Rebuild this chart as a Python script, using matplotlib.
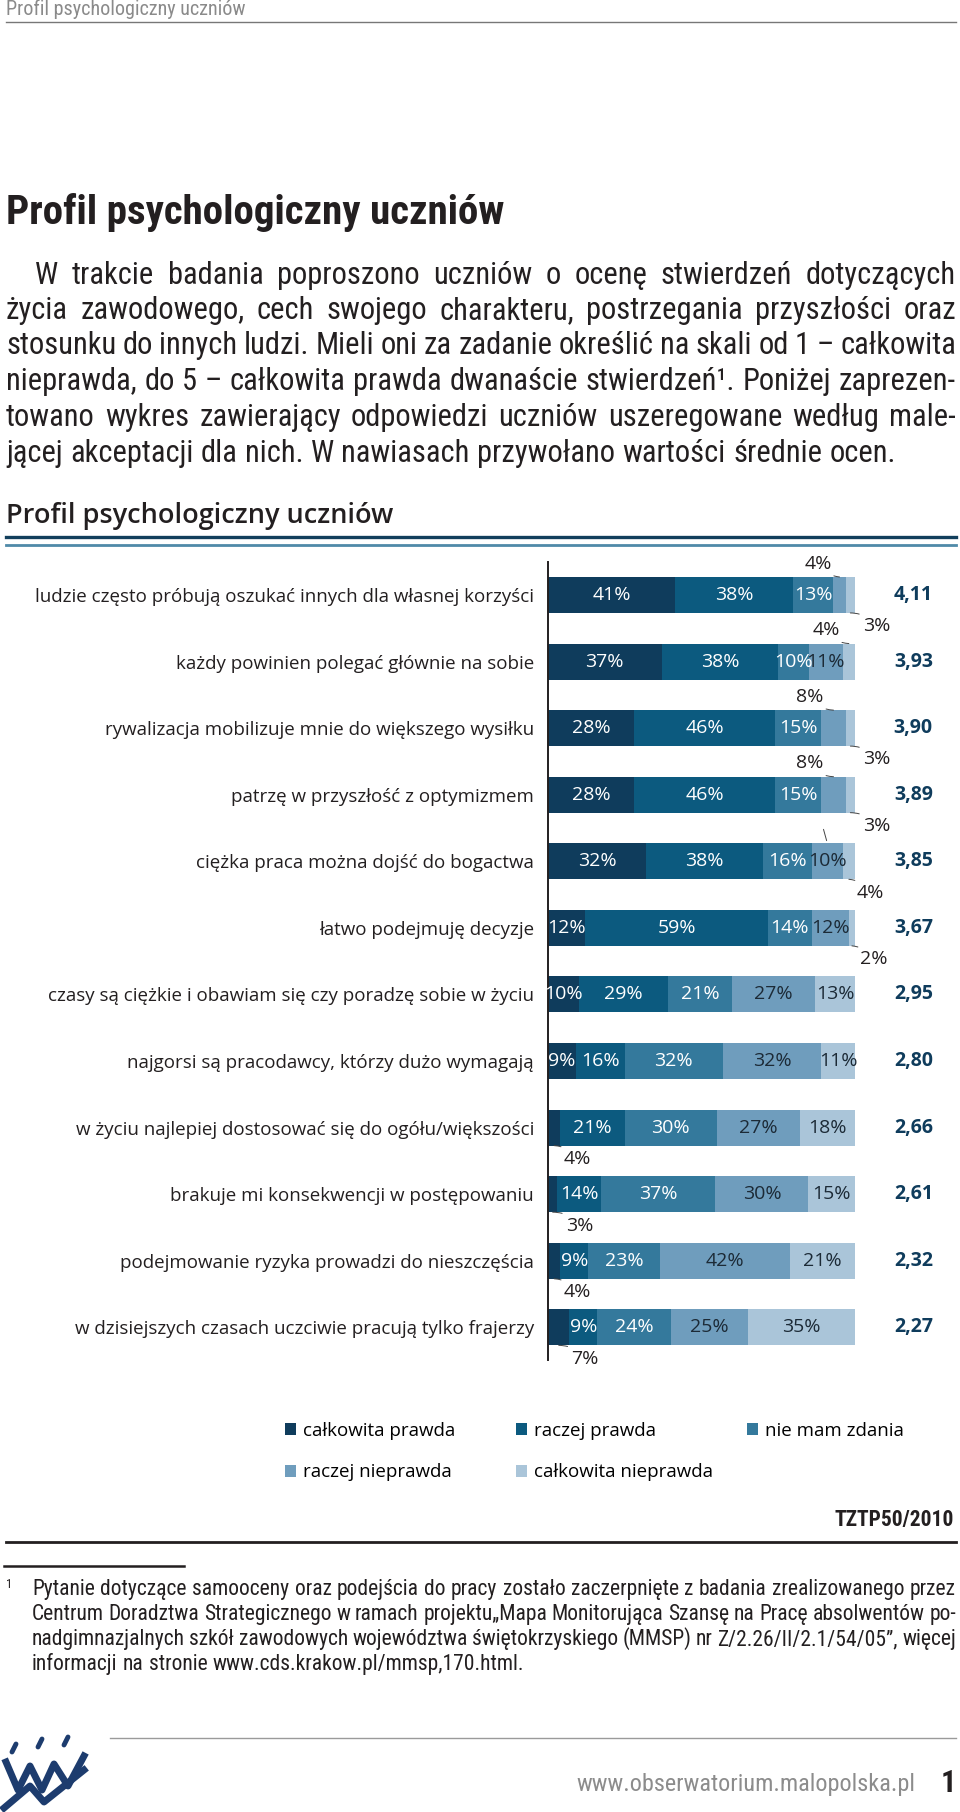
import numpy as np
import matplotlib
matplotlib.use('Agg')
import matplotlib.pyplot as plt
from matplotlib.lines import Line2D
from matplotlib import font_manager as fm

W, H = 960, 1812

statements = [
    'ludzie często próbują oszukać innych dla własnej korzyści',
    'każdy powinien polegać głównie na sobie',
    'rywalizacja mobilizuje mnie do większego wysiłku',
    'patrzę w przyszłość z optymizmem',
    'ciężka praca można dojść do bogactwa',
    'łatwo podejmuję decyzje',
    'czasy są ciężkie i obawiam się czy poradzę sobie w życiu',
    'najgorsi są pracodawcy, którzy dużo wymagają',
    'w życiu najlepiej dostosować się do ogółu/większości',
    'brakuje mi konsekwencji w postępowaniu',
    'podejmowanie ryzyka prowadzi do nieszczęścia',
    'w dzisiejszych czasach uczciwie pracują tylko frajerzy',
]
cal_prawda = [41, 37, 28, 28, 32, 12, 10, 9, 4, 3, 4, 7]
raczej_prawda = [38, 38, 46, 46, 38, 59, 29, 16, 21, 14, 9, 9]
nie_mam_zdania = [13, 10, 15, 15, 16, 14, 21, 32, 30, 37, 23, 24]
raczej_nieprawda = [4, 11, 8, 8, 10, 12, 27, 32, 27, 30, 42, 25]
cal_nieprawda = [3, 4, 3, 3, 4, 2, 13, 11, 18, 15, 21, 35]
srednie = ['4,11', '3,93', '3,90', '3,89', '3,85', '3,67',
           '2,95', '2,80', '2,66', '2,61', '2,32', '2,27']
series_names = ['całkowita prawda', 'raczej prawda', 'nie mam zdania',
                'raczej nieprawda', 'całkowita nieprawda']
colors = ['#0f3c5c', '#0c5a7f', '#34799c', '#6f9dbd', '#aac5d9']
text_colors = ['white', 'white', 'white', '#1c2a36', '#1c2a36']
NAVY = '#0f3c5c'

plt.rcParams['font.family'] = ['Open Sans', 'DejaVu Sans']


def pick_narrow():
    fonts = fm.fontManager.ttflist
    names = {f.name for f in fonts}
    for fam in ['Liberation Sans Narrow', 'Roboto Condensed', 'Noto Sans Condensed',
                'Open Sans Condensed', 'DejaVu Sans Condensed', 'Arial Narrow']:
        if fam in names:
            return fam, 'normal'
    for fam in ['Noto Sans', 'Open Sans', 'DejaVu Sans', 'Roboto']:
        if any(f.name == fam and f.stretch in ('condensed', 'semi-condensed',
                                                'extra-condensed') for f in fonts):
            return fam, 'condensed'
    return 'Roboto', 'normal'


NFAM, NSTRETCH = pick_narrow()
NARROW = dict(family=[NFAM, 'DejaVu Sans'], fontstretch=NSTRETCH)

fig = plt.figure(figsize=(W / 100, H / 100), dpi=100)
renderer = fig.canvas.get_renderer()


def fx(px):
    return px / W


def fy(py):
    return 1 - py / H


def fit_size(lines, width, size, min_gap):
    # shrink the size if the narrow font still runs wider than the column
    worst = 1.0
    for x0, text in lines:
        words = text.split(' ')
        t = fig.text(0, 0, text.replace(' ', ''), fontsize=size, **NARROW)
        need = t.get_window_extent(renderer).width + min_gap * (len(words) - 1)
        t.remove()
        worst = max(worst, need / (width - x0))
    return size / worst


def put_line(text, x0, x1, base, size, justify=True, **kw):
    words = text.split(' ')
    objs = [fig.text(0, fy(base), w, fontsize=size, va='baseline', ha='left', **kw)
            for w in words]
    widths = [o.get_window_extent(renderer).width for o in objs]
    if justify and len(words) > 1:
        gap = (x1 - x0 - sum(widths)) / (len(words) - 1)
    else:
        gap = size * 0.24 * 100 / 72
    x = x0
    for o, w in zip(objs, widths):
        o.set_x(fx(x))
        x += w + gap


# page header
fig.text(fx(6), fy(15), 'Profil psychologiczny uczniów', fontsize=14.5,
         color='#8a8a8a', va='baseline', **NARROW)
fig.add_artist(Line2D([fx(6), fx(956)], [fy(22), fy(22)], color='#777777', lw=1))

fig.text(fx(6), fy(224), 'Profil psychologiczny uczniów', fontsize=29.5,
         fontweight='bold', color='#231f20', va='baseline', **NARROW)

para = [
    'W trakcie badania poproszono uczniów o ocenę stwierdzeń dotyczących',
    'życia zawodowego, cech swojego charakteru, postrzegania przyszłości oraz',
    'stosunku do innych ludzi. Mieli oni za zadanie określić na skali od 1 – całkowita',
    'nieprawda, do 5 – całkowita prawda dwanaście stwierdzeń¹. Poniżej zaprezen-',
    'towano wykres zawierający odpowiedzi uczniów uszeregowane według male-',
    'jącej akceptacji dla nich. W nawiasach przywołano wartości średnie ocen.',
]
bases = [284, 319, 354, 390, 426, 462]
psize = fit_size([(35 if k == 0 else 6, l) for k, l in enumerate(para[:-1])], 956, 22, 6)
for k, (line, b) in enumerate(zip(para, bases)):
    put_line(line, 35 if k == 0 else 6, 956, b, psize, justify=k < len(para) - 1,
             color='#231f20', **NARROW)

# chart title and double rule
fig.text(fx(6), fy(523), 'Profil psychologiczny uczniów', fontsize=19.5,
         fontweight='semibold', color='#231f20', va='baseline')
fig.add_artist(Line2D([fx(6), fx(956)], [fy(537), fy(537)], color='#123f5c', lw=2.4))
fig.add_artist(Line2D([fx(6), fx(956)], [fy(545), fy(545)], color='#4f8aa8', lw=2))

# chart
ax = fig.add_axes([fx(548), fy(1360), 307 / W, (1360 - 562) / H])
vals = np.array([cal_prawda, raczej_prawda, nie_mam_zdania,
                 raczej_nieprawda, cal_nieprawda], dtype=float)
shares = vals / vals.sum(axis=0) * 100
y = np.arange(len(statements))
left = np.zeros(len(statements))
handles = []
for k in range(5):
    b = ax.barh(y, shares[k], left=left, height=0.54, color=colors[k],
                label=series_names[k])
    handles.append(b)
    for i in range(len(y)):
        v = int(vals[k][i])
        if v >= 9:
            ax.text(left[i] + shares[k][i] / 2, i, f'{v}%', ha='center', va='center',
                    fontsize=14, color=text_colors[k])
    left += shares[k]

starts = np.cumsum(shares, axis=0) - shares
# small segments labelled outside: row, segment, side (-1 above, 1 below), shift
outside = [(0, 3, -1, -6.8), (0, 4, 1, 8.5), (1, 4, -1, -7.5),
           (2, 3, -1, -7.8), (2, 4, 1, 8.5), (3, 3, -1, -7.8), (3, 4, 1, 8.5),
           (4, 4, 1, 7), (5, 4, 1, 7),
           (8, 0, 1, 7.5), (9, 0, 1, 8.8), (10, 0, 1, 7.5), (11, 0, 1, 8.5)]
for row, seg, side, dx in outside:
    cx = starts[seg][row] + shares[seg][row] / 2
    ax.annotate(f'{int(vals[seg][row])}%', xy=(cx, row + side * 0.27),
                xytext=(cx + dx, row + side * 0.47), ha='center', va='center',
                fontsize=14, color='#231f20', annotation_clip=False,
                arrowprops=dict(arrowstyle='-', lw=0.7, color='#444444',
                                shrinkA=1, shrinkB=0,
                                connectionstyle='arc3,rad=0.25'))
cx = starts[3][4] + shares[3][4] / 2
ax.annotate('', xy=(cx, 4 - 0.27), xytext=(cx - 1.5, 4 - 0.52),
            arrowprops=dict(arrowstyle='-', lw=0.7, color='#444444'))

for i, s in enumerate(srednie):
    ax.text(119, i, s, ha='center', va='center', fontsize=14,
            fontweight='bold', color=NAVY, clip_on=False)

ax.set_xlim(0, 100)
ax.set_ylim(11.49, -0.495)
ax.set_yticks(y)
ax.set_yticklabels(statements, fontsize=13.5, color='#231f20')
ax.tick_params(axis='y', length=0, pad=10)
ax.set_xticks([])
for s in ['top', 'right', 'bottom']:
    ax.spines[s].set_visible(False)
ax.spines['left'].set_linewidth(1.4)
ax.spines['left'].set_color('#231f20')

# legend, three columns
cols = [([0, 3], 289), ([1, 4], 520), ([2], 751)]
for idx, xpos in cols:
    fig.legend([handles[j] for j in idx], [series_names[j] for j in idx],
               loc='upper left', bbox_to_anchor=(fx(xpos) - 0.004, fy(1422)),
               frameon=False, fontsize=13.5, handlelength=0.6, handleheight=0.6,
               handletextpad=0.35, labelspacing=1.25, borderpad=0, borderaxespad=0)

fig.text(fx(954), fy(1526), 'TZTP50/2010', fontsize=15.5,
         fontweight='bold', color='#231f20', ha='right', va='baseline', **NARROW)
fig.add_artist(Line2D([fx(6), fx(956)], [fy(1542), fy(1542)], color='#231f20', lw=2))
fig.add_artist(Line2D([fx(4), fx(184)], [fy(1566), fy(1566)], color='#231f20', lw=1.8))

# footnote
fig.text(fx(6), fy(1588), '1', fontsize=9, color='#231f20', va='baseline', **NARROW)
foot = [
    'Pytanie dotyczące samooceny oraz podejścia do pracy zostało zaczerpnięte z badania zrealizowanego przez',
    'Centrum Doradztwa Strategicznego w ramach projektu„Mapa Monitorująca Szansę na Pracę absolwentów po-',
    'nadgimnazjalnych szkół zawodowych województwa świętokrzyskiego (MMSP) nr Z/2.26/II/2.1/54/05”, więcej',
    'informacji na stronie www.cds.krakow.pl/mmsp,170.html.',
]
fsize = fit_size([(32, l) for l in foot[:3]], 956, 15.5, 4)
for k, (line, b) in enumerate(zip(foot, [1595, 1620, 1645, 1670])):
    put_line(line, 32, 956, b, fsize, justify=k < 3, color='#231f20', **NARROW)

# footer
fig.add_artist(Line2D([fx(110), fx(956)], [fy(1738), fy(1738)], color='#9a9a9a', lw=1))
url = fig.text(fx(915), fy(1791), 'www.obserwatorium.malopolska.pl', fontsize=19,
               color='#8c8c8c', ha='right', va='baseline', **NARROW)
uw = url.get_window_extent(renderer).width
if uw > 345:
    url.set_fontsize(19 * 338 / uw)
fig.text(fx(956), fy(1792), '1', fontsize=22, fontweight='bold',
         color='#231f20', ha='right', va='baseline', **NARROW)

# logo (rough)
logo = '#1d3c6e'
for px, py in [(14, 1748), (40, 1743), (66, 1741)]:
    fig.add_artist(Line2D([fx(px - 2), fx(px + 2)], [fy(py + 4), fy(py - 4)],
                          color=logo, lw=3.5, solid_capstyle='round'))
fig.add_artist(Line2D([fx(p) for p in [6, 18, 30, 42, 54, 68, 84]],
                      [fy(p) for p in [1762, 1790, 1766, 1790, 1764, 1786, 1756]],
                      color=logo, lw=5))
fig.add_artist(Line2D([fx(p) for p in [4, 30, 44, 84]],
                      [fy(p) for p in [1808, 1786, 1802, 1770]],
                      color=logo, lw=5))

fig.savefig('out.png', dpi=100, facecolor='white')
